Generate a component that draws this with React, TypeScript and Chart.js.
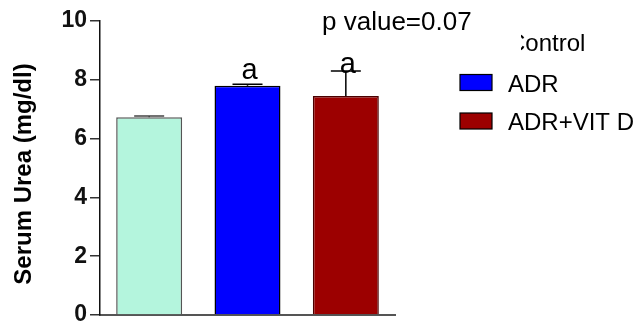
import React, { useEffect, useRef } from "react";
import { Chart, registerables } from "chart.js";

Chart.register(...registerables);

const categories = ["Control", "ADR", "ADR+VIT D"];
const means = [6.73, 7.8, 7.45];
const errors = [0.04, 0.05, 0.85];
const sigLabels = ["", "a", "a"];
const barColors = ["#b4f5dd", "#0000ff", "#9c0000"];
const borderColors = ["#555555", "#000000", "#4a0000"];
const yTicks = [0, 2, 4, 6, 8, 10];
const yTitle = "Serum Urea (mg/dl)";
const pValueText = "p value=0.07";

const FONT = "'Liberation Sans', Arial, Helvetica, sans-serif";

const overlayPlugin = {
  id: "overlay",
  afterDatasetsDraw(chart: any) {
    const ctx = chart.ctx;
    const meta = chart.getDatasetMeta(0);
    const y = chart.scales.y;
    ctx.save();
    // error bars
    meta.data.forEach((bar: any, i: number) => {
      const top = y.getPixelForValue(means[i]);
      const cap = y.getPixelForValue(means[i] + errors[i]);
      ctx.strokeStyle = i === 0 ? "#444" : "#000";
      ctx.lineWidth = 1.5;
      ctx.beginPath();
      ctx.moveTo(bar.x, top);
      ctx.lineTo(bar.x, cap);
      ctx.moveTo(bar.x - 15, cap);
      ctx.lineTo(bar.x + 15, cap);
      ctx.stroke();
    });
    // significance letters
    ctx.fillStyle = "#000";
    ctx.font = `29px ${FONT}`;
    ctx.textAlign = "center";
    ctx.textBaseline = "alphabetic";
    meta.data.forEach((bar: any, i: number) => {
      if (!sigLabels[i]) return;
      const cap = y.getPixelForValue(means[i] + errors[i]);
      const base = i === 2 ? cap + 2 : cap - 5;
      ctx.fillText(sigLabels[i], bar.x + 2, base);
    });
    // y title
    ctx.save();
    ctx.translate(31, (y.top + y.bottom) / 2 + 6);
    ctx.rotate(-Math.PI / 2);
    ctx.font = `bold 24px ${FONT}`;
    ctx.textAlign = "center";
    ctx.textBaseline = "alphabetic";
    ctx.fillText(yTitle, 0, 0);
    ctx.restore();
    // legend
    ctx.textAlign = "left";
    const rows = [51, 91.5, 130];
    ctx.font = `24px ${FONT}`;
    categories.forEach((c, i) => {
      ctx.fillStyle = "#000";
      ctx.fillText(c, 508, rows[i]);
      const by = rows[i] - 17;
      if (i === 0) {
        ctx.fillStyle = "#ffffff";
        ctx.fillRect(480, by - 6, 41, 26);
      } else {
        ctx.fillStyle = barColors[i];
        ctx.fillRect(460, by, 32, 16);
        ctx.strokeStyle = "#000";
        ctx.lineWidth = 1.2;
        ctx.strokeRect(460, by, 32, 16);
      }
    });
    // p value
    ctx.fillStyle = "#000";
    ctx.font = `26px ${FONT}`;
    ctx.fillText(pValueText, 322, 30);
    ctx.restore();
  },
};

export default function App() {
  const ref = useRef<HTMLCanvasElement>(null);
  useEffect(() => {
    if (!ref.current) return;
    const chart = new Chart(ref.current, {
      type: "bar",
      data: {
        labels: categories,
        datasets: [
          {
            data: means,
            backgroundColor: barColors,
            borderColor: borderColors,
            borderWidth: 1.5,
            barPercentage: 0.671,
            categoryPercentage: 1,
          },
        ],
      },
      options: {
        animation: false,
        responsive: true,
        maintainAspectRatio: false,
        layout: { padding: { left: 0, top: 21, right: 240, bottom: 0 } },
        plugins: { legend: { display: false }, tooltip: { enabled: false } },
        scales: {
          x: {
            type: "category",
            ticks: { display: false },
            grid: { display: false, drawTicks: false },
            border: { display: true, color: "#555", width: 2 },
            afterFit: (s: any) => {
              s.height = 9;
            },
          },
          y: {
            min: 0,
            max: 10,
            afterBuildTicks: (s: any) => {
              s.ticks = yTicks.map((v) => ({ value: v }));
            },
            ticks: {
              color: "#111",
              padding: 3,
              font: { family: FONT, size: 23, weight: "bold", lineHeight: 0.4 },
            },
            grid: {
              drawOnChartArea: false,
              drawTicks: true,
              tickLength: 10,
              color: "#333",
              lineWidth: 1.5,
            },
            border: { display: true, color: "#111", width: 1.5 },
            afterFit: (s: any) => {
              s.width = 100;
            },
          },
        },
      },
      plugins: [overlayPlugin],
    } as any);
    return () => chart.destroy();
  }, []);
  return (
    <div style={{ position: "absolute", left: 0, top: 0, width: 635, height: 324, background: "#fff" }}>
      <canvas ref={ref} style={{ width: 635, height: 324 }} />
    </div>
  );
}
